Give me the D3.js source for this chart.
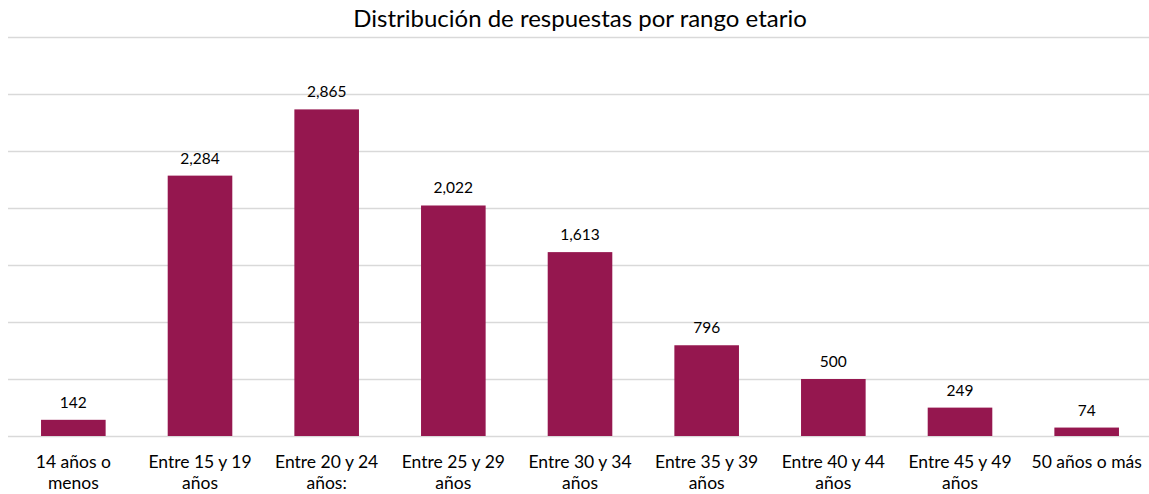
<!DOCTYPE html>
<html>
<head>
<meta charset="utf-8">
<script src="https://cdn.jsdelivr.net/npm/d3@7"></script>
<style>
  body { margin: 0; background: #fff; }
  text { font-family: Lato, "Liberation Sans", sans-serif; fill: #000; }
</style>
</head>
<body>
<div id="graph"></div>
<script>
var title = "Distribución de respuestas por rango etario";
var categories = ["14 años o menos", "Entre 15 y 19 años", "Entre 20 y 24 años:", "Entre 25 y 29 años",
    "Entre 30 y 34 años", "Entre 35 y 39 años", "Entre 40 y 44 años", "Entre 45 y 49 años", "50 años o más"];
var values = [142, 2284, 2865, 2022, 1613, 796, 500, 249, 74];
var gridTicks = [0, 500, 1000, 1500, 2000, 2500, 3000, 3500];

var width = 1149, height = 494;
var margin = {top: 37, right: 0, bottom: 58, left: 10};

var svg = d3.select("#graph").append("svg")
    .attr("width", width)
    .attr("height", height);

// Set ranges
var x = d3.scaleBand()
    .domain(categories)
    .range([margin.left, width + 1])
    .paddingInner(0.49)
    .paddingOuter(0.245);
var y = d3.scaleLinear()
    .domain([0, 3500])
    .range([height - margin.bottom, margin.top]);

// Gridlines
svg.append("g")
    .selectAll("line").data(gridTicks)
    .enter().append("line")
    .attr("x1", margin.left - 2)
    .attr("x2", width)
    .attr("y1", function(d) { return Math.round(y(d)) + 0.5; })
    .attr("y2", function(d) { return Math.round(y(d)) + 0.5; })
    .style("stroke", "#d9d9d9")
    .style("stroke-width", 1.5);

// Bars
svg.append("g")
    .selectAll("rect").data(values)
    .enter().append("rect")
    .attr("x", function(d, i) { return x(categories[i]); })
    .attr("width", x.bandwidth())
    .attr("y", function(d) { return y(d); })
    .attr("height", function(d) { return y(0) - y(d); })
    .style("fill", "#95174f");

// Value labels
svg.append("g")
    .selectAll("text").data(values)
    .enter().append("text")
    .attr("x", function(d, i) { return x(categories[i]) + x.bandwidth() / 2; })
    .attr("y", function(d) { return y(d) - 12; })
    .attr("text-anchor", "middle")
    .style("font-size", "15.5px")
    .text(function(d) { return d3.format(",")(d); });

// Category labels, wrapped like the original
var maxLine = 120;
var catG = svg.append("g");
categories.forEach(function(c, i) {
    var cx = x(c) + x.bandwidth() / 2;
    var t = catG.append("text")
        .attr("x", cx)
        .attr("y", 468)
        .attr("text-anchor", "middle")
        .style("font-size", "17.5px");
    var words = c.split(" ");
    var line = [];
    var ts = t.append("tspan").attr("x", cx).attr("dy", 0);
    words.forEach(function(w) {
        line.push(w);
        ts.text(line.join(" "));
        if (ts.node().getComputedTextLength() > maxLine && line.length > 1) {
            line.pop();
            ts.text(line.join(" "));
            line = [w];
            ts = t.append("tspan").attr("x", cx).attr("dy", 21).text(w);
        }
    });
});

// Title
svg.append("text")
    .attr("x", 580)
    .attr("y", 27)
    .attr("text-anchor", "middle")
    .style("font-size", "24px")
    .text(title);
</script>
</body>
</html>
